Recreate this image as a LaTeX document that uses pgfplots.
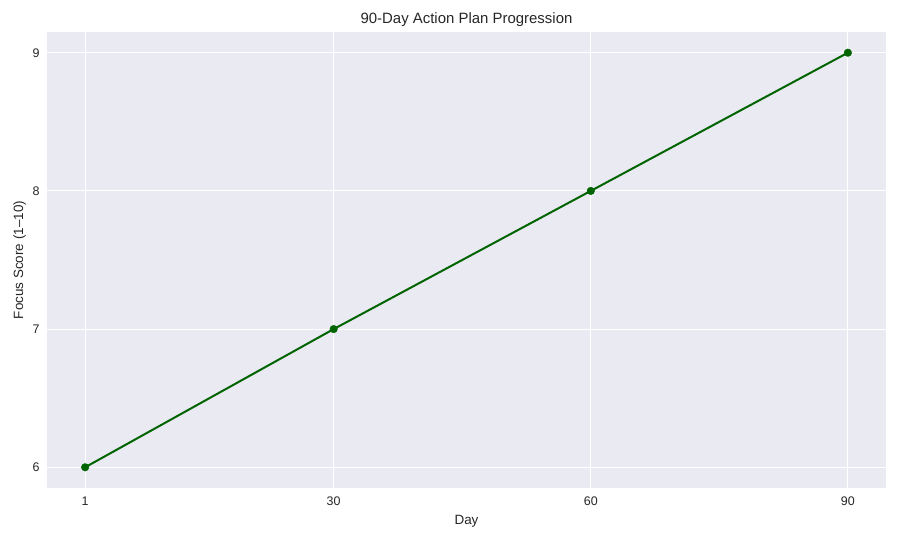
\documentclass[border=0pt]{standalone}
\usepackage{pgfplots}
\pgfplotsset{compat=1.18}
\usepackage{fontspec}
\setmainfont{Liberation Sans}
\definecolor{bg}{HTML}{EAEAF2}
\definecolor{txt}{HTML}{262626}
\definecolor{linegreen}{RGB}{0,100,0}

\begin{document}
\begin{tikzpicture}
\begin{axis}[
  scale only axis,
  width=839bp, height=456bp,
  xmin=-3.45, xmax=94.45,
  ymin=5.85, ymax=9.15,
  xtick={1,30,60,90},
  ytick={6,7,8,9},
  axis background/.style={fill=bg},
  axis line style={draw=none},
  major tick length=0pt,
  grid=major,
  grid style={white, line width=1.1bp},
  tick label style={font=\fontsize{12.5}{14}\selectfont, text=txt},
  /pgf/number format/assume math mode=true,
  xticklabel style={yshift=-5bp},
  yticklabel style={xshift=-4bp},
]
  % focus score per day
  \addplot[linegreen, line width=2bp, mark=*, mark size=3.8bp,
           mark options={fill=linegreen, draw=linegreen, line width=0.4bp}] coordinates {
    (1, 6) (30, 7) (60, 8) (90, 9)
  };
  \coordinate (sw) at (rel axis cs:0,0);
  \coordinate (ne) at (rel axis cs:1,1);
  \coordinate (tc) at (rel axis cs:0.5,1);
  \coordinate (bc) at (rel axis cs:0.5,0);
  \coordinate (lc) at (rel axis cs:0,0.5);
\end{axis}
\node[anchor=base, text=txt, font=\fontsize{15}{18}\selectfont]
  at ([yshift=8bp]tc) {90-Day Action Plan Progression};
\node[anchor=base, text=txt, font=\fontsize{13.5}{16}\selectfont]
  at ([yshift=-36bp]bc) {Day};
\node[anchor=base, rotate=90, text=txt, font=\fontsize{13.5}{16}\selectfont]
  at ([xshift=-24bp]lc) {Focus Score (1--10)};
\pgfresetboundingbox
\path[use as bounding box] ([shift={(-47bp,-52bp)}]sw) rectangle ([shift={(14bp,32bp)}]ne);
\end{tikzpicture}
\end{document}
